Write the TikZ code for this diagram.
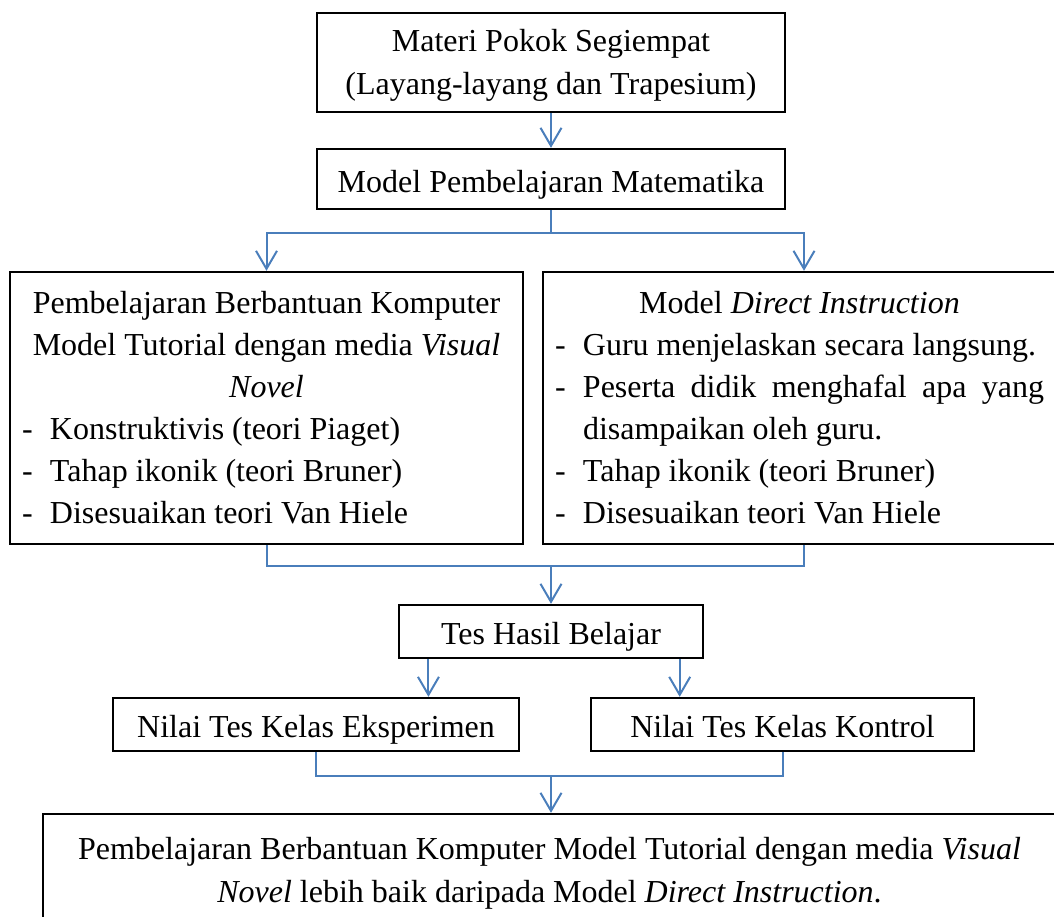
\documentclass[tikz,border=0pt]{standalone}
\usepackage{fontspec}
\setmainfont{Liberation Serif}
\usetikzlibrary{arrows.meta,calc}
\definecolor{birugaris}{RGB}{74,126,187}

\begin{document}
\begin{tikzpicture}[x=0.5pt,y=-0.5pt,
        font=\fontsize{16}{21}\selectfont,
        kotak/.style={draw,line width=1.2pt,inner sep=0pt,align=center},
        satubaris/.style={text height=13pt,text depth=0pt},
        garis/.style={draw=birugaris,line width=1pt},
        panah/.style={garis,-{Straight Barb[length=9pt,width=10.5pt]}}]
        % --- macro ---------------------------------------------------------
        \def\butir#1{\par\hangindent=14pt\hangafter=1\noindent\makebox[14pt][l]{-}#1}
        % --- bingkai -------------------------------------------------------
        \useasboundingbox (0,0) rectangle (1054,916);
        % --- kotak atas ----------------------------------------------------
        \node[kotak,minimum width=234pt,minimum height=49.5pt,
              font=\fontsize{16}{21.5}\selectfont] (materi) at (551,62.5)
            {\rule{0pt}{14pt}Materi Pokok Segiempat\\(Layang-layang dan Trapesium)};
        \node[kotak,satubaris,minimum width=234pt,minimum height=30pt] (model) at (551,179)
            {Model Pembelajaran Matematika};
        % --- dua model -----------------------------------------------------
        \node[kotak,minimum width=256.5pt,minimum height=136pt] (kiri) at (266.5,408)
            {\parbox{244.5pt}{{\centering Pembelajaran Berbantuan Komputer\\
              Model Tutorial dengan media \textit{Visual}\\ \textit{Novel}\par}
              \butir{Konstruktivis (teori Piaget)}
              \butir{Tahap ikonik (teori Bruner)}
              \butir{Disesuaikan teori Van Hiele}}};
        \node[kotak,minimum width=256.5pt,minimum height=136pt] (kanan) at (799.5,408)
            {\parbox{244.5pt}{\tolerance=10000
              {\centering Model \textit{Direct Instruction}\par}
              \butir{Guru menjelaskan secara langsung.}
              \butir{Peserta didik menghafal apa yang\linebreak disampaikan oleh guru.}
              \butir{Tahap ikonik (teori Bruner)}
              \butir{Disesuaikan teori Van Hiele}}};
        % --- tes -----------------------------------------------------------
        \node[kotak,satubaris,minimum width=152pt,minimum height=26.5pt] (tes) at (551,631.5)
            {Tes Hasil Belajar};
        \node[kotak,satubaris,minimum width=203pt,minimum height=26.5pt] (nilaiE) at (316,724.5)
            {Nilai Tes Kelas Eksperimen};
        \node[kotak,satubaris,minimum width=191.5pt,minimum height=26.5pt] (nilaiK) at (782.5,724.5)
            {Nilai Tes Kelas Kontrol};
        % --- kesimpulan ----------------------------------------------------
        \node[kotak,minimum width=506.5pt,minimum height=59pt,
              font=\fontsize{16}{21.5}\selectfont] (hasil) at (549.5,873)
            {Pembelajaran Berbantuan Komputer Model Tutorial dengan media \textit{Visual}\\
             \textit{Novel} lebih baik daripada Model \textit{Direct Instruction}.};
        % --- penghubung ----------------------------------------------------
        \coordinate (cabang) at (551,233);
        \coordinate (gabung) at (551,566);
        \coordinate (gabung2) at (551,776);
        \draw[panah] (materi) -- (model);
        \draw[garis] (model.south) -- (cabang);
        \draw[panah] (cabang) -| (kiri.north);
        \draw[panah] (cabang) -| ([xshift=2.25pt]kanan.north);
        \draw[garis] (kiri.south) |- (gabung) -| ([xshift=2.25pt]kanan.south);
        \draw[panah] (gabung) -- (tes.north);
        \draw[panah] ($(tes.south west)!.1!(tes.south east)$) coordinate (t1)
            -- (t1 |- nilaiE.north);
        \draw[panah] ($(tes.south west)!.92!(tes.south east)$) coordinate (t2)
            -- (t2 |- nilaiK.north);
        \draw[garis] (nilaiE.south) |- (gabung2) -| (nilaiK.south);
        \draw[panah] (gabung2) -- (gabung2 |- hasil.north);
    \end{tikzpicture}
\end{document}
